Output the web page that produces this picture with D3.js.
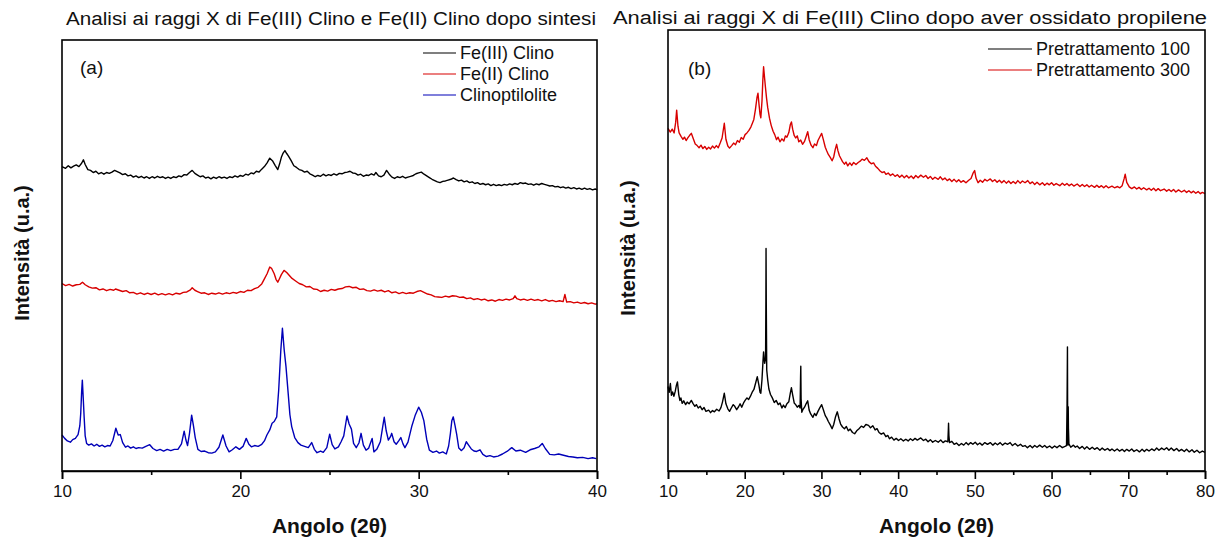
<!DOCTYPE html>
<html>
<head>
<meta charset="utf-8">
<script src="https://cdn.jsdelivr.net/npm/d3@7"></script>
<style>
  body { margin: 0; background: #fff; }
  text { font-family: "Liberation Sans", Arial, sans-serif; fill: #111; }
</style>
</head>
<body>
<div id="chart"></div>
<script>
// ---- data (angle 2theta, intensity a.u.) ----
const fe3Clino = [[10.0,70.0],[10.2,69.6],[10.35,70.2],[10.5,69.7],[10.65,70.1],[10.8,70.4],[10.95,70.0],[11.1,70.8],[11.2,71.6],[11.3,70.5],[11.45,69.3],[11.6,69.1],[11.75,68.6],[11.9,68.9],[12.05,68.3],[12.2,68.6],[12.35,68.2],[12.5,68.6],[12.65,68.4],[12.8,68.7],[12.95,69.1],[13.1,68.8],[13.25,68.5],[13.4,68.1],[13.55,68.3],[13.7,67.8],[13.85,68.0],[14.0,67.5],[14.15,67.8],[14.3,67.4],[14.45,67.7],[14.6,67.3],[14.75,67.6],[14.9,67.2],[15.05,67.6],[15.2,67.3],[15.35,67.7],[15.5,67.4],[15.65,67.6],[15.8,67.2],[15.95,67.5],[16.1,67.2],[16.25,67.6],[16.4,67.4],[16.55,67.8],[16.7,67.6],[16.85,68.1],[17.0,68.0],[17.15,68.6],[17.3,69.1],[17.45,68.4],[17.6,68.0],[17.75,67.6],[17.9,67.8],[18.05,67.3],[18.2,67.5],[18.35,67.1],[18.5,67.5],[18.65,67.2],[18.8,67.6],[18.95,67.3],[19.1,67.5],[19.25,67.2],[19.4,67.6],[19.55,67.4],[19.7,67.8],[19.85,67.5],[20.0,67.9],[20.15,67.7],[20.3,68.2],[20.45,68.0],[20.6,68.5],[20.75,68.3],[20.9,68.9],[21.05,68.7],[21.2,69.4],[21.35,70.0],[21.5,70.9],[21.65,72.0],[21.8,71.4],[21.95,70.3],[22.1,69.3],[22.2,70.6],[22.3,72.2],[22.4,73.2],[22.5,73.8],[22.6,73.1],[22.7,72.5],[22.85,71.4],[23.0,70.2],[23.15,69.8],[23.3,69.3],[23.45,69.1],[23.6,68.7],[23.75,68.9],[23.9,68.3],[24.05,68.0],[24.2,67.6],[24.35,67.9],[24.5,67.7],[24.65,68.2],[24.8,67.8],[24.95,68.1],[25.1,67.9],[25.25,68.3],[25.4,68.0],[25.55,68.4],[25.7,68.3],[25.85,68.6],[26.0,68.7],[26.15,68.9],[26.3,68.5],[26.45,68.4],[26.6,68.0],[26.75,68.2],[26.9,67.7],[27.05,68.0],[27.2,67.9],[27.35,68.3],[27.5,68.0],[27.6,68.6],[27.75,67.8],[27.9,67.6],[28.05,68.0],[28.2,69.1],[28.35,68.2],[28.5,67.5],[28.65,67.2],[28.8,67.6],[28.95,67.4],[29.1,67.7],[29.25,67.3],[29.4,67.5],[29.55,67.7],[29.7,67.9],[29.85,68.3],[30.0,68.5],[30.15,68.7],[30.3,68.2],[30.45,67.8],[30.6,67.4],[30.75,67.0],[30.9,66.7],[31.05,66.4],[31.2,66.2],[31.35,66.5],[31.5,66.6],[31.65,66.8],[31.8,67.0],[31.95,67.3],[32.1,66.9],[32.25,66.6],[32.4,66.8],[32.55,66.4],[32.7,66.6],[32.85,66.2],[33.0,66.4],[33.15,66.0],[33.3,66.2],[33.45,65.8],[33.6,66.0],[33.75,65.7],[33.9,65.9],[34.05,65.5],[34.2,65.8],[34.35,65.5],[34.5,65.7],[34.65,65.5],[34.8,65.8],[34.95,65.6],[35.1,65.9],[35.25,65.7],[35.4,66.0],[35.55,65.8],[35.7,66.2],[35.85,66.0],[36.0,66.1],[36.15,65.8],[36.3,65.9],[36.45,65.6],[36.6,65.9],[36.75,65.7],[36.9,66.0],[37.05,65.8],[37.2,65.6],[37.35,65.4],[37.5,65.5],[37.65,65.2],[37.8,65.3],[37.95,65.0],[38.1,65.2],[38.25,64.9],[38.4,65.1],[38.55,64.8],[38.7,65.0],[38.85,64.7],[39.0,64.9],[39.15,64.6],[39.3,64.9],[39.45,64.6],[39.6,64.8],[39.75,64.5],[39.9,64.7],[40.0,64.5]];

const fe2Clino = [[10.0,42.3],[10.2,41.8],[10.4,42.1],[10.6,41.7],[10.8,42.0],[11.0,42.1],[11.15,42.6],[11.3,42.0],[11.5,41.5],[11.7,41.2],[11.9,41.3],[12.1,40.8],[12.3,41.0],[12.5,40.6],[12.7,40.9],[12.9,40.7],[13.0,41.0],[13.2,40.7],[13.4,40.4],[13.6,40.6],[13.8,40.1],[14.0,40.2],[14.2,39.8],[14.4,40.1],[14.6,39.7],[14.8,40.0],[15.0,39.7],[15.2,40.0],[15.4,39.6],[15.6,39.9],[15.8,39.6],[16.0,39.9],[16.2,39.6],[16.4,40.0],[16.6,39.8],[16.8,40.2],[17.0,40.3],[17.2,40.8],[17.3,41.3],[17.45,40.7],[17.6,40.4],[17.8,40.0],[18.0,40.1],[18.2,39.7],[18.4,40.0],[18.6,39.8],[18.8,40.1],[19.0,39.8],[19.2,40.1],[19.4,39.9],[19.6,40.2],[19.8,40.0],[20.0,40.4],[20.2,40.2],[20.4,40.7],[20.6,40.6],[20.8,41.1],[21.0,41.4],[21.2,42.2],[21.35,43.4],[21.5,44.6],[21.65,46.2],[21.75,45.9],[21.9,44.6],[22.0,43.3],[22.1,42.6],[22.2,43.5],[22.3,44.4],[22.45,45.4],[22.6,44.9],[22.75,44.2],[22.9,43.5],[23.1,42.9],[23.3,42.3],[23.5,42.0],[23.7,41.5],[23.9,41.6],[24.1,41.0],[24.3,40.9],[24.5,40.4],[24.7,40.7],[24.9,40.5],[25.1,40.9],[25.3,40.7],[25.5,41.0],[25.7,41.1],[25.9,41.5],[26.1,41.6],[26.3,41.3],[26.5,41.4],[26.7,40.9],[26.9,41.0],[27.1,40.6],[27.3,40.5],[27.5,40.8],[27.7,40.5],[27.9,40.7],[28.1,40.3],[28.3,40.6],[28.5,40.1],[28.7,40.3],[28.9,39.9],[29.1,40.2],[29.3,39.9],[29.5,40.1],[29.7,40.0],[29.9,40.4],[30.1,40.6],[30.3,40.2],[30.5,39.8],[30.7,39.6],[30.9,39.2],[31.1,39.1],[31.3,39.0],[31.5,39.3],[31.7,39.1],[31.9,39.4],[32.1,39.3],[32.3,39.0],[32.5,39.1],[32.7,38.7],[32.9,38.9],[33.1,38.5],[33.3,38.7],[33.5,38.4],[33.7,38.6],[33.9,38.2],[34.1,38.4],[34.3,38.1],[34.5,38.5],[34.7,38.3],[34.9,38.6],[35.1,38.4],[35.3,38.7],[35.4,39.4],[35.5,38.7],[35.7,38.4],[35.9,38.6],[36.1,38.3],[36.3,38.6],[36.5,38.3],[36.7,38.5],[36.9,38.2],[37.1,38.5],[37.3,38.1],[37.5,38.3],[37.7,38.0],[37.9,38.2],[38.1,38.0],[38.2,39.7],[38.3,37.9],[38.5,38.0],[38.7,37.7],[38.9,37.9],[39.1,37.6],[39.3,37.8],[39.5,37.5],[39.7,37.7],[39.9,37.4],[40.0,37.5]];

const clinoptilolite = [[10.0,6.4],[10.15,5.6],[10.3,5.0],[10.47,4.7],[10.6,5.3],[10.75,5.6],[10.9,6.5],[11.0,8.6],[11.05,11.5],[11.1,16.5],[11.14,19.4],[11.19,15.2],[11.24,10.8],[11.3,6.2],[11.38,4.4],[11.5,4.0],[11.65,4.3],[11.8,3.8],[11.95,4.2],[12.1,3.7],[12.25,4.0],[12.4,3.6],[12.55,3.9],[12.7,3.8],[12.85,5.1],[13.02,8.0],[13.15,6.4],[13.27,6.5],[13.4,4.6],[13.56,3.5],[13.7,3.8],[13.85,3.3],[14.0,3.6],[14.15,3.2],[14.3,3.4],[14.5,3.3],[14.7,3.7],[14.92,4.1],[15.1,3.2],[15.31,2.7],[15.5,3.0],[15.7,2.6],[15.9,3.0],[16.1,2.7],[16.3,3.0],[16.5,3.0],[16.7,4.3],[16.85,7.3],[16.95,5.2],[17.04,3.9],[17.15,6.8],[17.27,11.1],[17.37,8.6],[17.47,5.8],[17.62,3.0],[17.8,2.5],[18.0,2.6],[18.2,2.2],[18.4,2.1],[18.6,2.4],[18.8,3.5],[19.02,6.4],[19.2,3.8],[19.37,2.4],[19.55,2.9],[19.75,3.6],[19.95,3.0],[20.15,3.7],[20.33,5.6],[20.48,4.2],[20.62,3.6],[20.8,3.9],[21.0,3.7],[21.2,4.2],[21.35,5.0],[21.49,6.4],[21.65,7.6],[21.78,9.2],[21.9,9.6],[22.04,10.7],[22.15,17.0],[22.27,26.5],[22.36,31.7],[22.46,26.5],[22.56,22.6],[22.69,15.9],[22.78,11.2],[22.88,8.4],[23.05,5.8],[23.23,4.6],[23.4,4.0],[23.6,3.7],[23.81,3.4],[24.0,4.6],[24.15,3.0],[24.3,2.2],[24.5,2.6],[24.65,2.3],[24.85,3.4],[25.01,6.6],[25.15,4.1],[25.3,3.1],[25.5,3.6],[25.65,4.8],[25.8,6.2],[25.98,10.9],[26.1,9.0],[26.23,7.8],[26.35,4.4],[26.5,3.4],[26.65,4.5],[26.77,6.8],[26.9,4.0],[27.05,2.8],[27.2,3.3],[27.39,5.6],[27.49,2.4],[27.65,3.0],[27.85,4.8],[28.0,8.8],[28.07,10.6],[28.18,7.4],[28.3,5.2],[28.42,6.0],[28.49,6.8],[28.62,4.8],[28.74,4.2],[28.88,5.0],[29.0,5.8],[29.12,4.3],[29.23,3.4],[29.4,4.7],[29.61,8.4],[29.8,11.0],[30.0,13.0],[30.15,11.8],[30.29,9.8],[30.45,5.4],[30.6,2.8],[30.8,2.3],[31.0,2.6],[31.16,2.1],[31.35,2.4],[31.55,1.9],[31.68,3.8],[31.78,6.8],[31.86,9.8],[31.94,10.7],[32.04,8.6],[32.13,6.6],[32.25,3.3],[32.4,2.7],[32.55,3.4],[32.67,4.8],[32.8,4.0],[32.95,3.1],[33.1,2.6],[33.25,2.5],[33.44,2.9],[33.6,1.8],[33.8,1.3],[34.0,1.5],[34.2,1.2],[34.45,1.4],[34.7,1.9],[34.95,2.5],[35.22,3.4],[35.45,2.6],[35.7,2.8],[36.0,2.3],[36.25,2.9],[36.5,3.2],[36.75,3.6],[36.93,4.4],[37.1,3.2],[37.35,1.8],[37.6,1.7],[37.85,1.9],[38.12,1.6],[38.4,1.3],[38.65,1.2],[38.9,1.0],[39.2,1.1],[39.5,0.8],[39.75,1.0],[39.96,0.8]];

const pre100 = [[10.0,17.9],[10.15,16.5],[10.31,18.6],[10.45,15.8],[10.6,16.6],[10.77,15.6],[10.95,16.8],[11.1,18.2],[11.23,19.0],[11.4,16.0],[11.55,14.6],[11.68,15.2],[11.85,13.9],[12.05,14.5],[12.3,13.6],[12.5,14.2],[12.75,13.8],[13.04,14.6],[13.25,13.9],[13.5,13.2],[13.7,13.6],[13.94,12.8],[14.2,13.2],[14.45,12.4],[14.7,12.9],[14.95,12.0],[15.3,12.3],[15.55,11.7],[15.8,12.2],[16.05,11.9],[16.35,12.5],[16.66,12.1],[16.9,12.9],[17.1,14.2],[17.34,16.3],[17.55,13.8],[17.8,12.6],[18.02,12.0],[18.25,12.8],[18.5,13.6],[18.7,13.2],[18.95,12.4],[19.2,13.1],[19.4,13.8],[19.61,13.0],[19.85,14.0],[20.05,14.6],[20.29,15.2],[20.5,14.8],[20.75,15.6],[20.96,16.5],[21.2,17.2],[21.45,18.9],[21.64,20.2],[21.85,18.2],[22.0,16.5],[22.1,16.3],[22.25,19.5],[22.38,23.8],[22.46,26.1],[22.6,23.4],[22.72,24.5],[22.76,38.0],[22.78,50.6],[22.81,38.0],[22.87,21.8],[23.0,19.4],[23.15,17.3],[23.36,16.0],[23.6,15.2],[23.85,14.1],[24.1,14.6],[24.37,13.6],[24.6,14.0],[24.85,12.8],[25.05,13.5],[25.27,12.9],[25.5,13.8],[25.75,14.3],[25.95,16.4],[26.09,17.6],[26.25,15.9],[26.45,14.0],[26.64,13.6],[26.85,13.0],[27.05,13.4],[27.22,12.8],[27.28,20.0],[27.31,22.7],[27.35,15.0],[27.44,11.8],[27.6,12.5],[27.8,13.0],[28.0,13.8],[28.21,14.5],[28.4,12.3],[28.6,11.4],[28.89,10.6],[29.1,11.5],[29.3,11.0],[29.55,12.0],[29.8,12.9],[30.03,13.6],[30.25,12.4],[30.5,11.0],[30.7,10.4],[30.9,9.6],[31.15,8.8],[31.39,7.9],[31.6,8.9],[31.85,10.8],[32.07,11.9],[32.3,10.2],[32.5,9.0],[32.75,8.3],[33.0,7.9],[33.25,8.4],[33.5,7.4],[33.75,7.8],[34.05,7.0],[34.33,6.7],[34.6,7.4],[34.9,7.9],[35.2,8.5],[35.5,8.2],[35.8,8.9],[36.14,8.7],[36.4,8.1],[36.7,8.6],[37.0,7.6],[37.25,7.9],[37.51,7.0],[37.8,6.6],[38.1,6.9],[38.4,6.0],[38.65,6.3],[38.87,5.5],[39.15,5.9],[39.45,5.2],[39.75,5.6],[40.05,5.1],[40.35,5.5],[40.68,5.0],[41.0,5.4],[41.3,5.0],[41.6,5.5],[41.9,5.1],[42.2,5.6],[42.5,5.2],[42.95,5.7],[43.3,5.1],[43.6,5.4],[43.9,4.8],[44.2,5.3],[44.5,4.7],[44.85,5.1],[45.22,4.7],[45.55,5.2],[45.85,4.6],[46.15,5.0],[46.48,4.8],[46.54,7.5],[46.57,9.2],[46.62,6.2],[46.7,4.6],[47.0,4.9],[47.3,4.2],[47.6,4.5],[47.93,3.9],[48.25,4.4],[48.55,4.0],[48.85,4.6],[49.15,4.1],[49.45,4.6],[49.74,4.2],[50.05,4.7],[50.35,4.1],[50.65,4.5],[50.95,4.0],[51.3,4.6],[51.65,4.2],[52.01,4.6],[52.35,4.0],[52.65,4.5],[52.95,4.1],[53.3,4.6],[53.6,4.0],[53.95,4.5],[54.28,4.2],[54.6,4.6],[54.9,3.9],[55.25,4.4],[55.6,3.8],[55.95,4.2],[56.25,3.7],[56.54,3.9],[56.85,3.4],[57.2,3.9],[57.5,3.4],[57.8,3.9],[58.1,3.5],[58.45,4.0],[58.8,3.5],[59.1,3.9],[59.4,3.4],[59.75,3.8],[60.05,3.3],[60.4,3.8],[60.7,3.4],[61.05,3.9],[61.4,3.4],[61.75,3.7],[61.95,3.9],[62.02,14.0],[62.07,27.3],[62.1,8.0],[62.14,4.0],[62.17,13.1],[62.2,8.0],[62.26,4.3],[62.5,3.5],[62.85,4.0],[63.1,3.5],[63.34,3.8],[63.65,3.2],[64.0,3.7],[64.3,3.1],[64.6,3.6],[64.95,3.0],[65.3,3.5],[65.6,3.0],[65.95,3.4],[66.3,2.8],[66.6,3.3],[66.95,2.8],[67.3,3.2],[67.6,2.7],[67.87,3.1],[68.2,2.6],[68.55,3.1],[68.85,2.6],[69.2,3.0],[69.5,2.5],[69.8,3.0],[70.13,2.6],[70.45,3.1],[70.75,2.5],[71.1,2.9],[71.45,2.4],[71.8,3.0],[72.1,2.5],[72.4,3.0],[72.7,2.6],[73.05,3.1],[73.4,2.7],[73.7,3.3],[74.0,2.8],[74.35,3.3],[74.67,2.9],[75.0,3.4],[75.3,2.8],[75.6,3.3],[75.95,2.7],[76.3,3.2],[76.6,2.6],[76.94,3.0],[77.3,2.5],[77.6,3.0],[77.95,2.4],[78.3,2.9],[78.6,2.3],[78.95,2.8],[79.3,2.2],[79.65,2.6],[80.0,2.3]];

const pre300 = [[10.0,79.1],[10.3,78.2],[10.55,78.9],[10.8,78.0],[11.0,80.5],[11.13,83.4],[11.3,79.6],[11.45,78.0],[11.7,77.2],[11.95,76.5],[12.15,77.0],[12.36,76.2],[12.6,76.9],[12.85,77.5],[13.04,77.9],[13.3,76.6],[13.55,75.4],[13.8,75.0],[14.05,74.5],[14.3,75.1],[14.55,74.3],[14.8,74.8],[15.05,74.1],[15.3,74.6],[15.55,74.2],[15.8,74.9],[16.05,74.4],[16.3,75.0],[16.55,74.5],[16.8,75.6],[17.05,76.8],[17.34,80.3],[17.55,76.5],[17.8,74.9],[18.02,74.4],[18.3,75.0],[18.55,75.6],[18.8,75.2],[19.05,76.2],[19.3,75.8],[19.55,76.9],[19.8,76.5],[20.05,77.6],[20.29,78.0],[20.55,78.6],[20.8,79.4],[21.0,80.3],[21.19,81.2],[21.4,83.6],[21.6,86.4],[21.73,87.4],[21.85,85.0],[22.0,82.4],[22.1,81.6],[22.25,85.5],[22.36,90.4],[22.46,93.7],[22.58,91.2],[22.7,88.9],[22.85,86.2],[23.0,84.0],[23.23,81.5],[23.45,79.8],[23.7,78.4],[23.91,77.6],[24.15,76.4],[24.35,77.0],[24.59,75.9],[24.85,76.6],[25.1,76.1],[25.3,77.3],[25.5,77.0],[25.75,78.1],[25.95,80.0],[26.09,80.6],[26.25,78.9],[26.45,77.4],[26.64,76.8],[26.85,77.3],[27.05,75.9],[27.3,76.3],[27.54,75.3],[27.8,76.0],[28.0,77.1],[28.21,78.3],[28.4,76.4],[28.65,75.1],[28.89,74.5],[29.1,75.4],[29.35,75.0],[29.55,76.2],[29.8,77.1],[30.03,77.9],[30.25,76.4],[30.5,74.6],[30.7,73.7],[30.9,72.9],[31.15,72.2],[31.39,71.4],[31.6,72.3],[31.8,74.1],[31.98,75.3],[32.15,73.8],[32.35,72.6],[32.52,72.0],[32.75,71.2],[33.0,70.6],[33.2,71.1],[33.43,70.2],[33.7,70.9],[33.95,70.3],[34.2,71.0],[34.5,70.5],[34.79,71.0],[35.05,71.3],[35.3,71.8],[35.6,71.5],[35.92,72.1],[36.2,71.2],[36.5,70.7],[36.8,70.9],[37.05,70.1],[37.35,69.6],[37.65,69.0],[37.9,68.6],[38.2,68.8],[38.41,68.2],[38.7,68.5],[39.0,67.9],[39.3,68.3],[39.6,67.7],[39.9,68.1],[40.2,67.5],[40.5,68.0],[40.8,67.4],[41.1,67.9],[41.4,67.3],[41.7,67.8],[42.0,67.2],[42.3,67.9],[42.6,67.4],[42.95,68.0],[43.3,67.5],[43.6,67.9],[43.9,67.2],[44.2,67.7],[44.5,67.0],[44.8,67.5],[45.22,67.0],[45.5,67.6],[45.8,66.9],[46.1,67.3],[46.4,66.7],[46.7,67.1],[47.0,66.5],[47.3,67.0],[47.6,66.4],[47.9,66.9],[48.2,66.3],[48.5,66.7],[48.84,66.2],[49.2,66.8],[49.5,67.2],[49.75,68.4],[49.97,69.1],[50.15,67.3],[50.42,66.2],[50.7,66.8],[51.0,66.3],[51.3,67.0],[51.6,66.6],[52.01,67.1],[52.3,66.5],[52.6,66.9],[52.9,66.3],[53.2,66.8],[53.5,66.2],[53.8,66.7],[54.1,66.1],[54.4,66.6],[54.7,66.0],[55.0,66.5],[55.3,66.0],[55.6,66.7],[55.9,66.1],[56.2,66.6],[56.54,66.2],[56.9,66.7],[57.2,66.0],[57.5,66.4],[57.8,65.8],[58.1,66.3],[58.45,65.7],[58.8,66.2],[59.1,65.6],[59.4,66.1],[59.7,65.7],[60.0,66.2],[60.3,65.6],[60.6,66.0],[61.07,65.5],[61.4,66.1],[61.7,65.6],[62.0,66.0],[62.3,65.5],[62.6,65.9],[62.9,65.4],[63.34,65.9],[63.7,65.3],[64.0,65.8],[64.3,65.3],[64.6,65.7],[64.9,65.2],[65.2,65.6],[65.6,65.1],[65.9,65.6],[66.2,65.1],[66.5,65.5],[66.8,65.0],[67.1,65.5],[67.4,65.0],[67.87,65.4],[68.2,65.0],[68.6,65.3],[68.9,65.0],[69.2,65.5],[69.45,67.1],[69.6,68.2],[69.8,66.3],[70.13,65.2],[70.45,64.8],[70.8,65.2],[71.1,64.7],[71.4,65.1],[71.7,64.6],[72.0,65.0],[72.4,64.5],[72.7,64.9],[73.0,64.4],[73.3,64.9],[73.6,64.3],[73.9,64.8],[74.2,64.3],[74.67,64.7],[75.0,64.2],[75.3,64.6],[75.6,64.1],[75.9,64.6],[76.2,64.0],[76.55,64.5],[76.94,64.0],[77.3,64.4],[77.6,63.9],[77.9,64.3],[78.2,63.8],[78.5,64.2],[78.8,63.7],[79.1,64.1],[79.4,63.6],[79.65,63.9],[80.0,63.6]];

const ticksA = [10, 20, 30, 40];
const minorA = [15, 25, 35];
const ticksB = [10, 20, 30, 40, 50, 60, 70, 80];
const minorB = [15, 25, 35, 45, 55, 65, 75];

const legendA = ["Fe(III) Clino", "Fe(II) Clino", "Clinoptilolite"];
const legendB = ["Pretrattamento 100", "Pretrattamento 300"];

const titleA = "Analisi ai raggi X di Fe(III) Clino e Fe(II) Clino dopo sintesi";
const titleB = "Analisi ai raggi X di Fe(III) Clino dopo aver ossidato propilene";

// ---- drawing ----
const svg = d3.select("#chart").append("svg")
    .attr("width", 1215)
    .attr("height", 540);

function drawPanel(p) {
  const x = d3.scaleLinear().domain(p.xDomain).range([p.left, p.right]);
  const y = d3.scaleLinear().domain(p.yDomain).range([p.bottom, p.top]);

  const g = svg.append("g");

  // title
  g.append("text")
    .attr("x", p.titleX)
    .attr("y", p.titleY)
    .attr("text-anchor", "middle")
    .attr("textLength", p.titleWidth)
    .attr("lengthAdjust", "spacingAndGlyphs")
    .style("font-size", "18px")
    .text(p.title);

  // curves
  const line = d3.line().x(d => x(d[0])).y(d => y(d[1]));
  p.series.forEach(s => {
    g.append("path")
      .datum(s.data)
      .attr("fill", "none")
      .attr("stroke", s.color)
      .attr("stroke-width", 1.4)
      .attr("stroke-linejoin", "round")
      .attr("d", line);
  });

  // frame
  g.append("rect")
    .attr("x", p.left).attr("y", p.top)
    .attr("width", p.right - p.left)
    .attr("height", p.bottom - p.top)
    .attr("fill", "none")
    .attr("stroke", "#000")
    .attr("stroke-width", 1.6);

  // x axis, major + minor
  const ax = g.append("g")
    .attr("transform", "translate(0," + p.bottom + ")")
    .call(d3.axisBottom(x).tickValues(p.ticks).tickSize(8).tickPadding(6).tickFormat(d3.format("d")));
  ax.select(".domain").attr("stroke-width", 1.6);
  ax.selectAll(".tick line").attr("stroke-width", 1.6);
  ax.selectAll(".tick text").style("font-size", "17px").style("font-family", "Liberation Sans, Arial, sans-serif");

  const axm = g.append("g")
    .attr("transform", "translate(0," + p.bottom + ")")
    .call(d3.axisBottom(x).tickValues(p.minor).tickSize(4).tickFormat(""));
  axm.select(".domain").remove();
  axm.selectAll(".tick line").attr("stroke-width", 1.6);

  // axis titles
  g.append("text")
    .attr("x", (p.left + p.right) / 2)
    .attr("y", 533)
    .attr("text-anchor", "middle")
    .style("font-size", "21px")
    .style("font-weight", "bold")
    .text("Angolo (2\u03B8)");

  g.append("text")
    .attr("transform", "translate(" + p.yLabelX + "," + p.yLabelY + ") rotate(-90)")
    .attr("text-anchor", "middle")
    .style("font-size", "20px")
    .style("font-weight", "bold")
    .text("Intensit\u00E0 (u.a.)");

  // panel tag
  g.append("text")
    .attr("x", p.tagX).attr("y", p.tagY)
    .style("font-size", "19px")
    .text(p.tag);

  // legend
  const lg = g.append("g");
  p.series.forEach((s, i) => {
    const ly = p.legendY + i * p.legendStep;
    lg.append("line")
      .attr("x1", p.legendX).attr("x2", p.legendX + p.legendLen)
      .attr("y1", ly).attr("y2", ly)
      .attr("stroke", s.color).attr("stroke-width", 1.1);
    lg.append("text")
      .attr("x", p.legendX + p.legendLen + 4)
      .attr("y", ly + 6)
      .style("font-size", "18px")
      .text(s.name);
  });
}

drawPanel({
  left: 62, right: 597, top: 40, bottom: 471,
  xDomain: [10, 40], yDomain: [-2.13, 100],
  ticks: ticksA, minor: minorA,
  title: titleA, titleX: 331, titleY: 25, titleWidth: 530,
  yLabelX: 29, yLabelY: 253, tag: "(a)", tagX: 80, tagY: 74,
  legendX: 423, legendLen: 33, legendY: 53, legendStep: 21,
  series: [
    { name: legendA[0], data: fe3Clino, color: "#000000" },
    { name: legendA[1], data: fe2Clino, color: "#d80000" },
    { name: legendA[2], data: clinoptilolite, color: "#0000b8" }
  ]
});

drawPanel({
  left: 668, right: 1205, top: 30, bottom: 471,
  xDomain: [10, 80], yDomain: [-2.13, 102.4],
  ticks: ticksB, minor: minorB,
  title: titleB, titleX: 910, titleY: 24, titleWidth: 594,
  yLabelX: 635, yLabelY: 248, tag: "(b)", tagX: 688, tagY: 75,
  legendX: 988, legendLen: 44, legendY: 49, legendStep: 21,
  series: [
    { name: legendB[0], data: pre100, color: "#000000" },
    { name: legendB[1], data: pre300, color: "#d80000" }
  ]
});
</script>
</body>
</html>
